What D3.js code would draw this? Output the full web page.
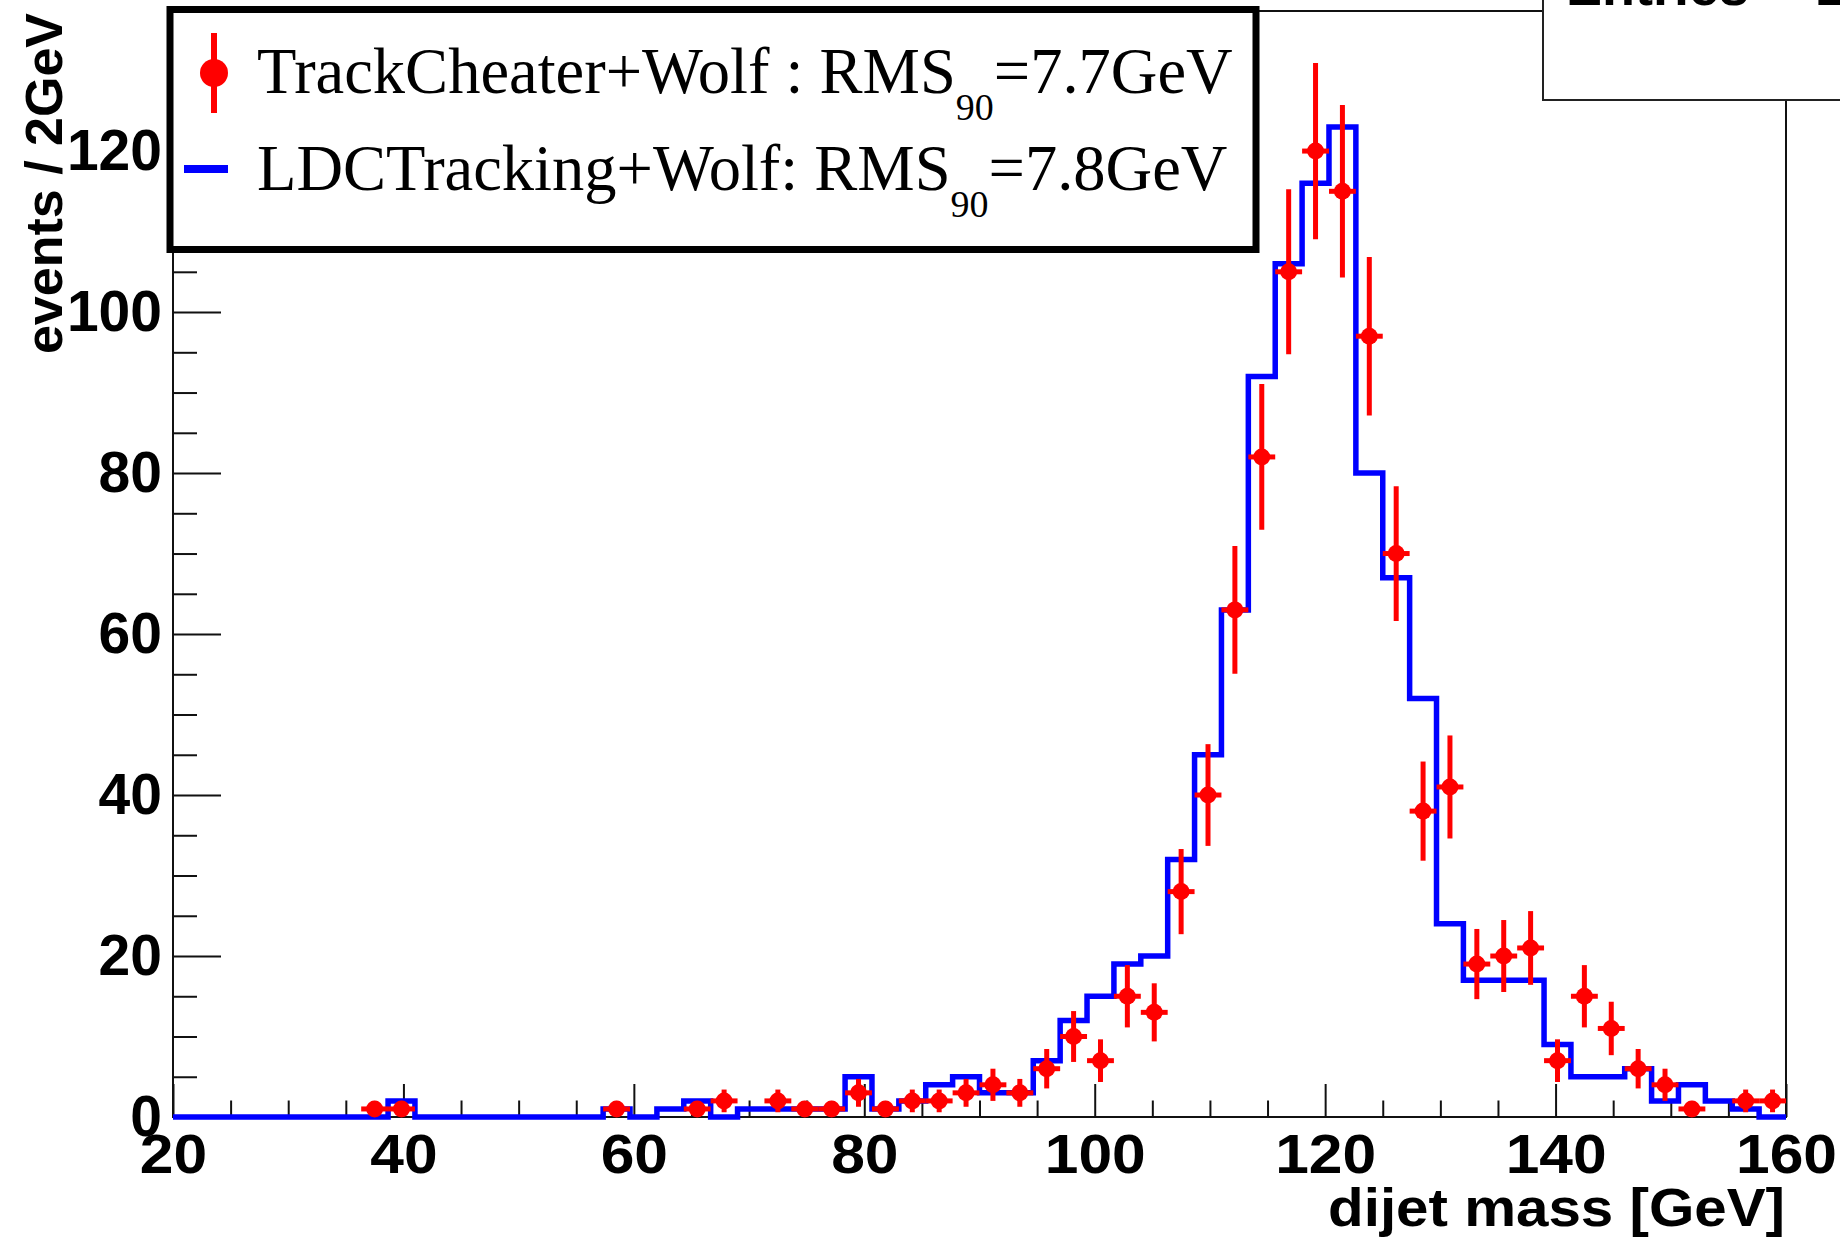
<!DOCTYPE html>
<html><head><meta charset="utf-8">
<script src="https://cdn.jsdelivr.net/npm/d3@7"></script>
<style>html,body{margin:0;padding:0;background:#fff;overflow:hidden}svg{display:block}</style>
</head><body>
<svg id="c" width="1840" height="1239"></svg>
<script>
// Histogram definition: 60 bins from 20 to 160 GeV
const xRange = [20, 160];
const nBins = 60;
const yMax = 137.4;

// TrackCheater+Wolf (red points), bin contents
const trackCheater = [0,0,0,0,0,0,0,1,1,0, 0,0,0,0,0,0,1,0,0,1, 2,0,2,1,1,3,1,2,2,3,
  4,3,6,10,7,15,13,28,40,63, 82,105,120,115,97,70,38,41,19,20, 21,7,15,11,6,4,1,0,2,2];
// TrackCheater+Wolf errors
const trackCheaterErr = [0,0,0,0,0,0,0,1,1,0, 0,0,0,0,0,0,1,0,0,1, 1.41,0,1.41,1,1,1.73,1,1.41,1.41,1.73,
  2,1.73,2.45,3.16,2.65,3.87,3.61,5.29,6.32,7.94, 9.06,10.25,10.95,10.72,9.85,8.37,6.16,6.40,4.36,4.47,
  4.58,2.65,3.87,3.32,2.45,2,1,0,1.41,1.41];
// LDCTracking+Wolf (blue histogram), bin contents
const ldcTracking = [0,0,0,0,0,0,0,0,2,0, 0,0,0,0,0,0,1,0,1,2, 0,1,1,1,1,5,1,2,4,5,
  3,3,7,12,15,19,20,32,45,63, 92,106,116,123,80,67,52,24,17,17, 17,9,5,5,6,2,4,2,1,0];

const xTicks = [20,40,60,80,100,120,140,160];
const xMinorTicks = [25,30,35,45,50,55,65,70,75,85,90,95,105,110,115,125,130,135,145,150,155];
const yTicks = [0,20,40,60,80,100,120];
const yMinorTicks = [5,10,15,25,30,35,45,50,55,65,70,75,85,90,95,105,110,115,125,130,135];

const legendLabels = [
  {main:"TrackCheater+Wolf : RMS", sub:"90", tail:"=7.7GeV"},
  {main:"LDCTracking+Wolf: RMS", sub:"90", tail:"=7.8GeV"}
];
const xTitle = "dijet mass [GeV]";
const yTitle = "events / 2GeV";

const svg = d3.select("#c");
const L = 173, R = 1786, T = 11, B = 1117;
const x = d3.scaleLinear().domain(xRange).range([L, R]);
const y = d3.scaleLinear().domain([0, yMax]).range([B, T]);
const bw = (xRange[1]-xRange[0]) / nBins;
const binLow = d3.range(nBins).map(i => xRange[0] + i*bw);

const sans = "'Liberation Sans', Arial, Helvetica, sans-serif";
const serif = "'Liberation Serif', 'Times New Roman', serif";

// frame
svg.append("rect").attr("x", L).attr("y", T).attr("width", R-L).attr("height", B-T)
  .attr("fill", "none").attr("stroke", "#111").attr("stroke-width", 2);

// axes
function styleAxis(g) {
  g.select(".domain").remove();
  g.selectAll(".tick line").attr("stroke", "#111").attr("stroke-width", 2);
}
const xAxis = svg.append("g").attr("transform", `translate(0,${B})`)
  .call(d3.axisBottom(x).tickValues(xTicks).tickSize(-33).tickSizeOuter(0).tickPadding(16).tickFormat(d3.format("d")));
styleAxis(xAxis);
xAxis.selectAll("text").attr("font-family", sans).attr("font-weight", "bold").attr("font-size", 56)
  .attr("fill", "#000").attr("transform", "scale(1.08,1)");
const xMinor = svg.append("g").attr("transform", `translate(0,${B})`)
  .call(d3.axisBottom(x).tickValues(xMinorTicks).tickSize(-16.5).tickSizeOuter(0).tickFormat(""));
styleAxis(xMinor);

const yAxis = svg.append("g").attr("transform", `translate(${L},0)`)
  .call(d3.axisLeft(y).tickValues(yTicks).tickSize(-48).tickSizeOuter(0).tickPadding(11).tickFormat(d3.format("d")));
styleAxis(yAxis);
yAxis.selectAll("text").attr("font-family", sans).attr("font-weight", "bold").attr("font-size", 57).attr("fill", "#000");
const yMinor = svg.append("g").attr("transform", `translate(${L},0)`)
  .call(d3.axisLeft(y).tickValues(yMinorTicks).tickSize(-24).tickSizeOuter(0).tickFormat(""));
styleAxis(yMinor);

// blue histogram (step outline)
const pts = [];
ldcTracking.forEach((v, i) => {
  pts.push([x(binLow[i]), y(v)]);
  pts.push([x(binLow[i] + bw), y(v)]);
});
svg.append("path").attr("d", d3.line()(pts)).attr("fill", "none")
  .attr("stroke", "#0000ff").attr("stroke-width", 5.5).attr("stroke-linejoin", "miter");

// red points with errors
const red = "#ff0000";
const gp = svg.append("g");
trackCheater.forEach((v, i) => {
  if (v <= 0) return;
  const e = trackCheaterErr[i];
  const cx = x(binLow[i] + bw/2);
  gp.append("line").attr("x1", cx).attr("x2", cx).attr("y1", y(v - e)).attr("y2", y(v + e))
    .attr("stroke", red).attr("stroke-width", 5);
  gp.append("line").attr("x1", x(binLow[i])).attr("x2", x(binLow[i] + bw)).attr("y1", y(v)).attr("y2", y(v))
    .attr("stroke", red).attr("stroke-width", 5);
  gp.append("circle").attr("cx", cx).attr("cy", y(v)).attr("r", 8.5).attr("fill", red);
});

// legend
const lg = svg.append("g");
lg.append("rect").attr("x", 170).attr("y", 9.5).attr("width", 1086).attr("height", 240)
  .attr("fill", "#fff").attr("stroke", "#000").attr("stroke-width", 7);
lg.append("line").attr("x1", 214).attr("x2", 214).attr("y1", 33).attr("y2", 113)
  .attr("stroke", red).attr("stroke-width", 6);
lg.append("circle").attr("cx", 214).attr("cy", 73).attr("r", 14).attr("fill", red);
lg.append("line").attr("x1", 184).attr("x2", 228).attr("y1", 169).attr("y2", 169)
  .attr("stroke", "#0000ff").attr("stroke-width", 8);
const baselines = [93, 190];
legendLabels.forEach((lab, i) => {
  const t = lg.append("text").attr("x", 257).attr("y", baselines[i])
    .attr("font-family", serif).attr("font-size", 64.5).attr("fill", "#000");
  t.append("tspan").text(lab.main);
  t.append("tspan").attr("dy", 27).attr("font-size", 38).text(lab.sub);
  t.append("tspan").attr("dy", -27).text(lab.tail);
});

// stats box (partially visible)
const sb = svg.append("g");
sb.append("rect").attr("x", 1543).attr("y", -20).attr("width", 400).attr("height", 120)
  .attr("fill", "#fff").attr("stroke", "#222").attr("stroke-width", 2);
sb.append("text").attr("x", 1566).attr("y", 5).attr("font-family", sans).attr("font-weight", "bold")
  .attr("font-size", 54).attr("fill", "#000").text("Entries");
sb.append("text").attr("x", 1815).attr("y", 5).attr("font-family", sans).attr("font-weight", "bold")
  .attr("font-size", 54).attr("fill", "#000").text("1000");

// axis titles
svg.append("text").attr("transform", "translate(1785,1226) scale(1.08,1)").attr("text-anchor", "end")
  .attr("font-family", sans).attr("font-weight", "bold").attr("font-size", 54).attr("fill", "#000").text(xTitle);
svg.append("text").attr("transform", "translate(62,13) rotate(-90)").attr("text-anchor", "end")
  .attr("font-family", sans).attr("font-weight", "bold").attr("font-size", 52).attr("fill", "#000").text(yTitle);
</script>
</body></html>
